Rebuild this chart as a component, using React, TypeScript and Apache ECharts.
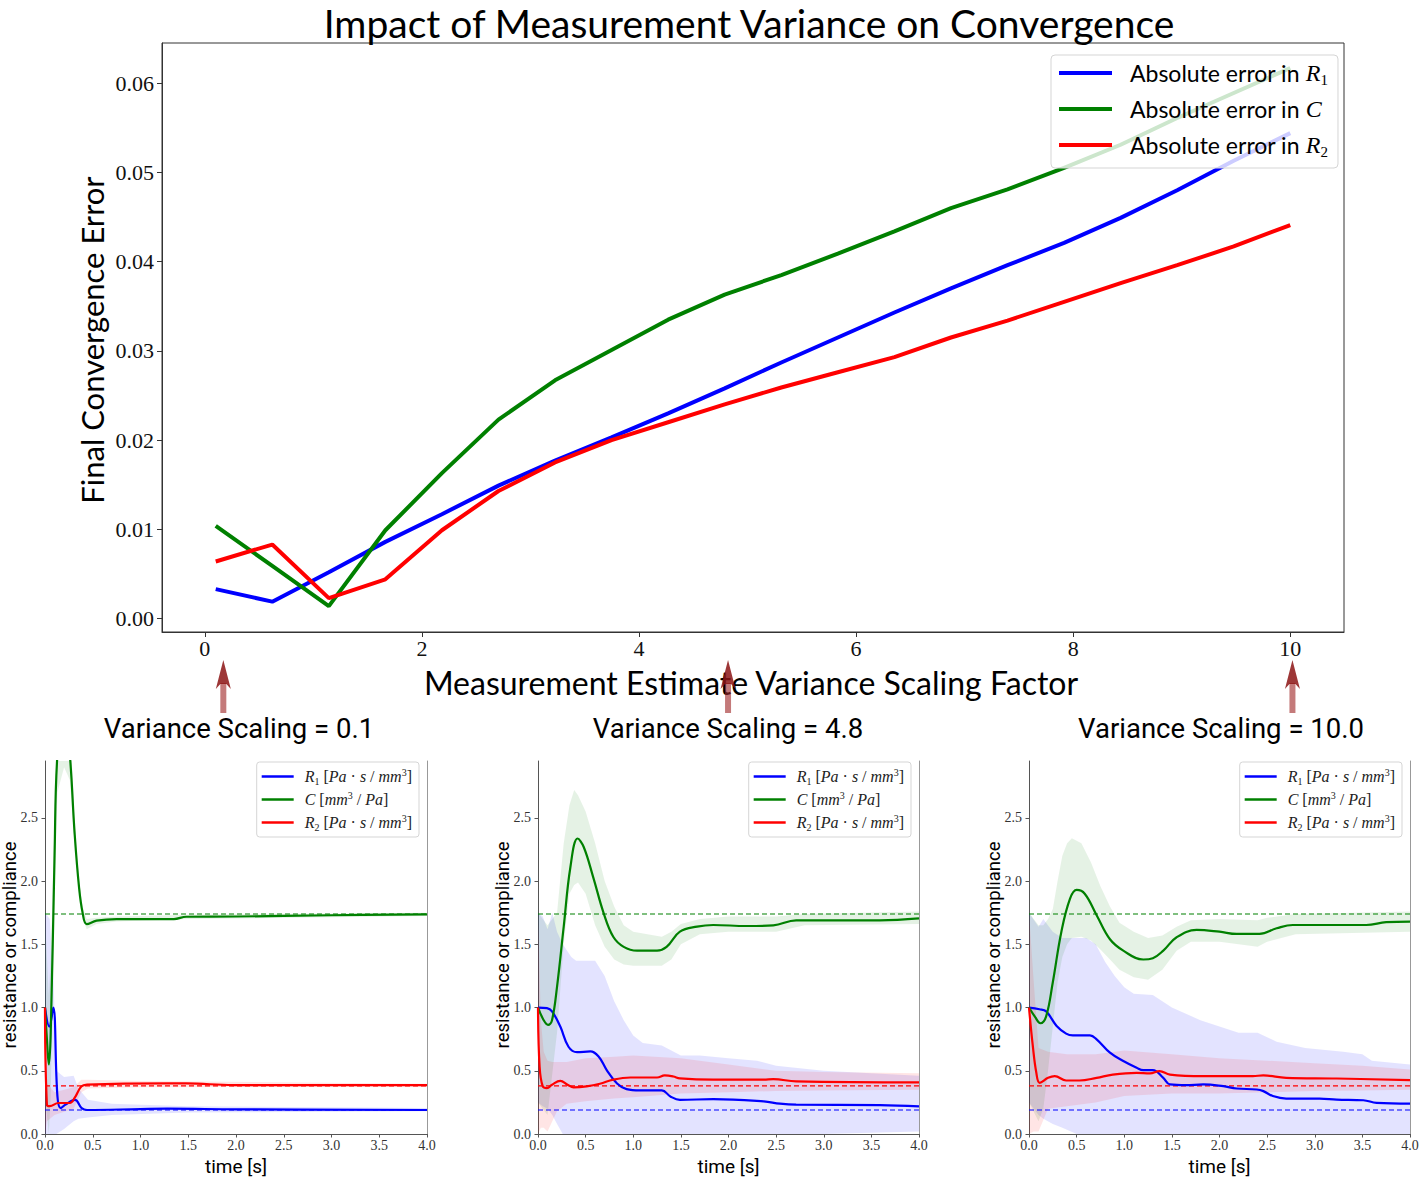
import React, { useEffect, useRef } from "react";
import * as echarts from "echarts";

// ---------------- main chart data ----------------
const scaleFactors = [0.1, 0.621, 1.142, 1.663, 2.184, 2.705, 3.226, 3.747, 4.268, 4.789, 5.311, 5.832, 6.353, 6.874, 7.395, 7.916, 8.437, 8.958, 9.479, 10.0];
const errR1 = [0.0033, 0.0019, 0.0052, 0.0086, 0.0117, 0.0149, 0.0177, 0.0203, 0.023, 0.0258, 0.0287, 0.0315, 0.0343, 0.037, 0.0396, 0.0421, 0.0449, 0.048, 0.0513, 0.0544];
const errC = [0.0104, 0.0059, 0.0014, 0.0099, 0.0163, 0.0223, 0.0267, 0.0301, 0.0335, 0.0363, 0.0385, 0.0409, 0.0434, 0.046, 0.0481, 0.0505, 0.0531, 0.0561, 0.0589, 0.0617];
const errR2 = [0.0064, 0.0083, 0.0023, 0.0044, 0.0099, 0.0143, 0.0175, 0.02, 0.022, 0.024, 0.0259, 0.0276, 0.0293, 0.0315, 0.0334, 0.0355, 0.0376, 0.0396, 0.0417, 0.0441];
const mainXTicks = [0, 2, 4, 6, 8, 10];
const mainYTicks = [0, 0.01, 0.02, 0.03, 0.04, 0.05, 0.06];
const arrowTargets = [0.17, 4.82, 10.02];

// ---------------- panel data ----------------
const panelTitles = ["Variance Scaling = 0.1", "Variance Scaling = 4.8", "Variance Scaling = 10.0"];
const refR1 = 0.19;
const refC = 1.74;
const refR2 = 0.38;

// panel 1 (variance 0.1): [t, value]
const p1R1 = [[0, 1.0], [0.045, 0.85], [0.087, 1.0], [0.13, 0.3], [0.164, 0.205], [0.21, 0.23], [0.314, 0.27], [0.384, 0.205], [0.44, 0.19], [1.0, 0.197], [1.28, 0.2], [2.0, 0.195], [4.0, 0.19]];
const p1C = [[0, 1.0], [0.02, 0.75], [0.04, 0.55], [0.06, 0.8], [0.1, 2.2], [0.13, 3.0], [0.2, 3.4], [0.26, 3.0], [0.31, 2.38], [0.356, 1.955], [0.395, 1.745], [0.437, 1.66], [0.54, 1.687], [0.75, 1.7], [1.35, 1.7], [1.48, 1.718], [2.0, 1.72], [3.0, 1.73], [4.0, 1.737]];
const p1R2 = [[0, 1.0], [0.02, 0.23], [0.05, 0.22], [0.14, 0.245], [0.26, 0.245], [0.31, 0.285], [0.38, 0.375], [0.44, 0.39], [1.28, 0.4], [1.48, 0.4], [1.97, 0.387], [4.0, 0.387]];
// bands: [t, lower, upper]
const p1R1Band = [[0, 0, 1.75], [0.05, 0, 1.7], [0.09, 0, 1.2], [0.12, 0, 0.5], [0.2, 0.04, 0.45], [0.3, 0.1, 0.46], [0.35, 0.12, 0.36], [0.45, 0.13, 0.27], [0.7, 0.15, 0.24], [1.5, 0.17, 0.22], [4.0, 0.18, 0.205]];
const p1CBand = [[0, 0.3, 1.7], [0.04, 0.0, 1.1], [0.06, 0.3, 1.4], [0.1, 1.9, 2.5], [0.13, 2.7, 3.2], [0.2, 2.9, 3.7], [0.26, 2.8, 3.3], [0.31, 2.3, 2.46], [0.356, 1.9, 2.01], [0.395, 1.7, 1.79], [0.437, 1.62, 1.7], [0.54, 1.66, 1.71], [0.75, 1.68, 1.72], [1.5, 1.7, 1.735], [4.0, 1.725, 1.75]];
const p1R2Band = [[0, 0.0, 1.0], [0.02, 0.1, 0.4], [0.1, 0.15, 0.33], [0.3, 0.2, 0.37], [0.38, 0.33, 0.43], [0.45, 0.36, 0.43], [1.0, 0.37, 0.42], [4.0, 0.375, 0.397]];

// panel 2 (variance 4.8)
const p2R1 = [[0, 1.0], [0.094, 0.995], [0.147, 0.97], [0.234, 0.85], [0.32, 0.69], [0.41, 0.647], [0.55, 0.653], [0.636, 0.613], [0.72, 0.508], [0.83, 0.4], [0.93, 0.355], [1.07, 0.345], [1.3, 0.345], [1.39, 0.297], [1.49, 0.27], [1.84, 0.276], [2.37, 0.258], [2.54, 0.24], [2.71, 0.232], [3.59, 0.229], [4.0, 0.218]];
const p2C = [[0, 1.0], [0.06, 0.9], [0.105, 0.863], [0.147, 0.9], [0.2, 1.166], [0.27, 1.64], [0.34, 2.11], [0.416, 2.337], [0.48, 2.27], [0.58, 2.03], [0.69, 1.745], [0.79, 1.56], [0.9, 1.48], [1.04, 1.45], [1.25, 1.45], [1.35, 1.48], [1.49, 1.6], [1.67, 1.64], [1.84, 1.653], [2.19, 1.645], [2.47, 1.65], [2.71, 1.69], [3.59, 1.69], [4.0, 1.705]];
const p2R2 = [[0, 1.0], [0.017, 0.53], [0.05, 0.376], [0.094, 0.363], [0.147, 0.39], [0.234, 0.42], [0.31, 0.39], [0.374, 0.368], [0.51, 0.376], [0.65, 0.397], [0.79, 0.43], [0.97, 0.447], [1.25, 0.447], [1.33, 0.463], [1.42, 0.455], [1.49, 0.44], [1.84, 0.43], [2.37, 0.43], [2.47, 0.434], [2.71, 0.416], [4.0, 0.408]];
const p2R1Band = [[0, 0.25, 1.75], [0.05, 0.22, 1.72], [0.1, 0.2, 1.62], [0.15, 0.15, 1.75], [0.2, 0.08, 1.6], [0.26, 0, 1.5], [0.35, 0, 1.4], [0.4, 0, 1.37], [0.6, 0, 1.37], [0.7, 0, 1.25], [0.8, 0, 1.05], [0.9, 0, 0.9], [1.0, 0, 0.78], [1.1, 0, 0.72], [1.3, 0, 0.7], [1.4, 0, 0.66], [1.5, 0, 0.62], [1.7, 0, 0.62], [2.0, 0, 0.6], [2.3, 0, 0.58], [2.5, 0, 0.54], [3.0, 0, 0.5], [4.0, 0.02, 0.46]];
const p2CBand = [[0, 0.25, 1.75], [0.1, 0.15, 1.65], [0.2, 0.8, 1.75], [0.27, 1.5, 2.3], [0.33, 1.9, 2.6], [0.38, 1.97, 2.72], [0.42, 1.99, 2.68], [0.5, 1.9, 2.55], [0.6, 1.65, 2.3], [0.7, 1.48, 2.0], [0.8, 1.38, 1.8], [0.9, 1.34, 1.65], [1.0, 1.33, 1.6], [1.3, 1.33, 1.56], [1.4, 1.38, 1.6], [1.5, 1.5, 1.66], [1.7, 1.58, 1.7], [2.0, 1.6, 1.72], [2.5, 1.6, 1.72], [2.8, 1.65, 1.74], [4.0, 1.66, 1.76]];
const p2R2Band = [[0, 0, 1.75], [0.03, 0.05, 0.9], [0.06, 0.05, 0.65], [0.1, 0.02, 0.58], [0.15, 0.1, 0.57], [0.2, 0.18, 0.57], [0.3, 0.24, 0.57], [0.5, 0.26, 0.6], [0.8, 0.28, 0.61], [1.0, 0.29, 0.62], [1.5, 0.32, 0.6], [2.0, 0.33, 0.55], [2.5, 0.34, 0.5], [3.0, 0.345, 0.49], [4.0, 0.35, 0.48]];

// panel 3 (variance 10.0)
const p3R1 = [[0, 1.0], [0.11, 0.987], [0.18, 0.97], [0.29, 0.855], [0.39, 0.794], [0.46, 0.78], [0.64, 0.78], [0.71, 0.749], [0.85, 0.643], [0.99, 0.577], [1.13, 0.524], [1.2, 0.505], [1.3, 0.505], [1.41, 0.444], [1.48, 0.392], [1.65, 0.386], [1.83, 0.392], [2.04, 0.378], [2.18, 0.36], [2.39, 0.352], [2.46, 0.339], [2.56, 0.3], [2.7, 0.28], [3.05, 0.28], [3.23, 0.272], [3.51, 0.267], [3.65, 0.246], [4.0, 0.24]];
const p3C = [[0, 1.0], [0.06, 0.93], [0.12, 0.876], [0.18, 0.93], [0.25, 1.2], [0.34, 1.6], [0.43, 1.86], [0.5, 1.93], [0.585, 1.9], [0.71, 1.73], [0.85, 1.54], [0.99, 1.45], [1.2, 1.38], [1.3, 1.39], [1.41, 1.45], [1.55, 1.556], [1.76, 1.614], [2.0, 1.6], [2.18, 1.582], [2.42, 1.582], [2.6, 1.627], [2.77, 1.653], [3.54, 1.653], [3.75, 1.675], [4.0, 1.68]];
const p3R2 = [[0, 1.0], [0.04, 0.696], [0.077, 0.484], [0.112, 0.405], [0.2, 0.444], [0.27, 0.458], [0.39, 0.423], [0.53, 0.423], [0.71, 0.444], [0.88, 0.47], [1.13, 0.484], [1.27, 0.479], [1.37, 0.497], [1.48, 0.47], [1.83, 0.458], [2.35, 0.458], [2.46, 0.463], [2.7, 0.444], [3.23, 0.439], [4.0, 0.426]];
const p3R1Band = [[0, 0.25, 1.75], [0.1, 0.15, 1.64], [0.15, 0.12, 1.7], [0.25, 0.08, 1.6], [0.35, 0.05, 1.55], [0.5, 0, 1.55], [0.6, 0, 1.55], [0.7, 0, 1.5], [0.8, 0, 1.36], [0.9, 0, 1.25], [1.0, 0, 1.16], [1.1, 0, 1.11], [1.3, 0, 1.1], [1.5, 0, 1.0], [1.8, 0, 0.9], [2.0, 0, 0.85], [2.2, 0, 0.8], [2.4, 0, 0.8], [2.6, 0, 0.73], [2.9, 0, 0.68], [3.3, 0, 0.65], [3.5, 0, 0.63], [3.6, 0, 0.58], [4.0, 0, 0.55]];
const p3CBand = [[0, 0.25, 1.75], [0.1, 0.1, 1.65], [0.15, 0.2, 1.65], [0.2, 0.5, 1.7], [0.25, 0.85, 1.78], [0.3, 1.2, 2.0], [0.35, 1.4, 2.2], [0.4, 1.5, 2.3], [0.45, 1.55, 2.34], [0.55, 1.56, 2.3], [0.65, 1.53, 2.15], [0.75, 1.46, 1.96], [0.85, 1.38, 1.8], [0.95, 1.3, 1.67], [1.1, 1.24, 1.6], [1.25, 1.22, 1.55], [1.4, 1.3, 1.57], [1.55, 1.45, 1.64], [1.7, 1.52, 1.69], [2.0, 1.52, 1.7], [2.4, 1.48, 1.69], [2.5, 1.52, 1.71], [2.8, 1.58, 1.74], [4.0, 1.6, 1.76]];
const p3R2Band = [[0, 0, 1.75], [0.05, 0.02, 1.2], [0.1, 0.02, 0.68], [0.2, 0.2, 0.65], [0.4, 0.22, 0.63], [0.7, 0.25, 0.63], [1.0, 0.3, 0.66], [1.5, 0.32, 0.63], [2.0, 0.32, 0.6], [2.5, 0.33, 0.58], [3.0, 0.34, 0.56], [3.5, 0.345, 0.54], [4.0, 0.35, 0.51]];

// ---------------- styling ----------------
const BLUE = "#0000ff";
const GREEN = "#008000";
const RED = "#ff0000";
const SANS = "Lato, 'Open Sans', sans-serif";
const SERIF = "'Liberation Serif', 'DejaVu Serif', serif";
const ROBOTO = "Roboto, 'Noto Sans', sans-serif";

const MAIN_NAMES = ["Absolute error in R1", "Absolute error in C", "Absolute error in R2"];
const PANEL_NAMES = ["R1 [Pa s / mm3]", "C [mm3 / Pa]", "R2 [Pa s / mm3]"];

const panels = [
  { r1: p1R1, c: p1C, r2: p1R2, r1Band: p1R1Band, cBand: p1CBand, r2Band: p1R2Band },
  { r1: p2R1, c: p2C, r2: p2R2, r1Band: p2R1Band, cBand: p2CBand, r2Band: p2R2Band },
  { r1: p3R1, c: p3C, r2: p3R2, r1Band: p3R1Band, cBand: p3CBand, r2Band: p3R2Band },
];
const panelGrids = [
  { left: 45, top: 761, width: 382, height: 373 },
  { left: 538, top: 761, width: 381, height: 373 },
  { left: 1029, top: 761, width: 381, height: 373 },
];
const panelTitleCenters = [239, 728, 1221];

const zip = (xs: number[], ys: number[]) => xs.map((x, i) => [x, ys[i]]);

function bandSeries(band: number[][], fill: string, idx: number) {
  return {
    type: "custom",
    xAxisIndex: idx,
    yAxisIndex: idx,
    clip: true,
    silent: true,
    z: 1,
    data: [[0, 0]],
    renderItem: (_p: any, api: any) => {
      const upper = band.map((b) => api.coord([b[0], b[2]]));
      const lower = band.slice().reverse().map((b) => api.coord([b[0], b[1]]));
      return {
        type: "polygon",
        shape: { points: upper.concat(lower) },
        style: { fill, stroke: null },
      };
    },
  };
}

function lineSeries(name: string, data: number[][], color: string, idx: number, width: number, smooth: number | false) {
  return {
    type: "line",
    name,
    data,
    xAxisIndex: idx,
    yAxisIndex: idx,
    color,
    showSymbol: false,
    symbol: "none",
    smooth,
    clip: true,
    z: 3,
    lineStyle: { color, width },
    itemStyle: { color },
  };
}

function refSeries(value: number, color: string, idx: number) {
  return {
    type: "line",
    data: [[0, value], [4, value]],
    xAxisIndex: idx,
    yAxisIndex: idx,
    showSymbol: false,
    symbol: "none",
    silent: true,
    z: 2,
    lineStyle: { color, width: 1.2, type: [5, 3] },
  };
}

function buildOption() {
  const grids: any[] = [
    { left: 162, top: 43, width: 1182, height: 589, show: true, borderColor: "#333", borderWidth: 1, backgroundColor: "transparent", outerBoundsMode: "none", containLabel: false },
    ...panelGrids.map((g) => ({ ...g, outerBoundsMode: "none", containLabel: false })),
  ];

  const xAxes: any[] = [
    {
      type: "value", gridIndex: 0, min: -0.395, max: 10.495,
      axisLine: { onZero: false, lineStyle: { color: "#333", width: 1 } },
      axisTick: { show: true, length: 5, customValues: mainXTicks, lineStyle: { color: "#333" } },
      axisLabel: { customValues: mainXTicks, fontFamily: SERIF, fontSize: 22, color: "#111", margin: 5, formatter: (v: number) => String(v) },
      splitLine: { show: false },
    },
    ...panelGrids.map((_, i) => ({
      type: "value", gridIndex: i + 1, min: 0, max: 4, interval: 0.5,
      axisLine: { onZero: false, lineStyle: { color: "#555", width: 1 } },
      axisTick: { show: true, length: 3.5, lineStyle: { color: "#555" } },
      axisLabel: { fontFamily: SERIF, fontSize: 14, color: "#333", margin: 4, formatter: (v: number) => v.toFixed(1) },
      splitLine: { show: false },
    })),
  ];

  const yAxes: any[] = [
    {
      type: "value", gridIndex: 0, min: -0.0015, max: 0.0645,
      axisLine: { onZero: false, lineStyle: { color: "#333", width: 1 } },
      axisTick: { show: true, length: 5, customValues: mainYTicks, lineStyle: { color: "#333" } },
      axisLabel: { customValues: mainYTicks, fontFamily: SERIF, fontSize: 22, color: "#111", margin: 8, formatter: (v: number) => v.toFixed(2) },
      splitLine: { show: false },
    },
    ...panelGrids.map((_, i) => ({
      type: "value", gridIndex: i + 1, min: 0, max: 2.95, interval: 0.5,
      axisLine: { onZero: false, lineStyle: { color: "#555", width: 1 } },
      axisTick: { show: true, length: 3.5, lineStyle: { color: "#555" } },
      axisLabel: { fontFamily: SERIF, fontSize: 14, color: "#333", margin: 7, showMaxLabel: false, formatter: (v: number) => v.toFixed(1) },
      splitLine: { show: false },
    })),
    ...panelGrids.map((_, i) => ({
      type: "value", gridIndex: i + 1, min: 0, max: 2.95, position: "right",
      axisLine: { show: true, onZero: false, lineStyle: { color: "#999", width: 1 } },
      axisTick: { show: false },
      axisLabel: { show: false },
      splitLine: { show: false },
    })),
  ];

  const series: any[] = [
    lineSeries(MAIN_NAMES[0], zip(scaleFactors, errR1), BLUE, 0, 4, false),
    lineSeries(MAIN_NAMES[1], zip(scaleFactors, errC), GREEN, 0, 4, false),
    lineSeries(MAIN_NAMES[2], zip(scaleFactors, errR2), RED, 0, 4, false),
  ];
  panels.forEach((p, i) => {
    const idx = i + 1;
    series.push(bandSeries(p.r1Band, "rgba(0,0,255,0.11)", idx));
    series.push(bandSeries(p.cBand, "rgba(0,128,0,0.1)", idx));
    series.push(bandSeries(p.r2Band, "rgba(255,0,0,0.1)", idx));
    series.push(refSeries(refC, GREEN, idx));
    series.push(refSeries(refR2, RED, idx));
    series.push(refSeries(refR1, BLUE, idx));
    series.push(lineSeries(PANEL_NAMES[0], p.r1, BLUE, idx, 2.2, 0.4));
    series.push(lineSeries(PANEL_NAMES[1], p.c, GREEN, idx, 2.2, 0.4));
    series.push(lineSeries(PANEL_NAMES[2], p.r2, RED, idx, 2.2, 0.4));
  });

  const mainLegend = {
    orient: "vertical", left: 1051, top: 55,
    data: MAIN_NAMES, icon: "rect", itemWidth: 53, itemHeight: 4, itemGap: 8,
    padding: [4, 10, 9, 8],
    backgroundColor: "rgba(255,255,255,0.8)", borderColor: "#d5d5d5", borderWidth: 1, borderRadius: 4,
    selectedMode: false,
    formatter: (name: string) => {
      if (name === MAIN_NAMES[0]) return "Absolute error in {i|R}{sb|1}";
      if (name === MAIN_NAMES[1]) return "Absolute error in {i|C}";
      return "Absolute error in {i|R}{sb|2}";
    },
    textStyle: {
      fontFamily: SANS, fontSize: 23, color: "#000", lineHeight: 28, padding: [0, 0, 0, 13],
      rich: {
        i: { fontFamily: SERIF, fontStyle: "italic", fontSize: 24, color: "#000", lineHeight: 28 },
        sb: { fontFamily: SERIF, fontSize: 15, color: "#000", verticalAlign: "bottom", lineHeight: 28 },
      },
    },
  };

  const panelLegends = panelGrids.map((g) => ({
    orient: "vertical", right: 1419 - (g.left + g.width) + 8, top: 762,
    data: PANEL_NAMES, icon: "rect", itemWidth: 32, itemHeight: 2.5, itemGap: 4,
    padding: [5, 7, 5, 5],
    backgroundColor: "rgba(255,255,255,0.8)", borderColor: "#d5d5d5", borderWidth: 1, borderRadius: 3,
    selectedMode: false,
    formatter: (name: string) => {
      if (name === PANEL_NAMES[0]) return "{i|R}{sb|1} [{i|Pa} · {i|s} / {i|mm}{sp|3}]";
      if (name === PANEL_NAMES[1]) return "{i|C} [{i|mm}{sp|3} / {i|Pa}]";
      return "{i|R}{sb|2} [{i|Pa} · {i|s} / {i|mm}{sp|3}]";
    },
    textStyle: {
      fontFamily: SERIF, fontSize: 16, color: "#222", lineHeight: 19, padding: [0, 0, 0, 6],
      rich: {
        i: { fontFamily: SERIF, fontStyle: "italic", fontSize: 16, color: "#222", lineHeight: 19 },
        sb: { fontFamily: SERIF, fontSize: 10, color: "#222", verticalAlign: "bottom", lineHeight: 19 },
        sp: { fontFamily: SERIF, fontSize: 10, color: "#222", verticalAlign: "top", lineHeight: 19 },
      },
    },
  }));

  return {
    animation: false,
    backgroundColor: "#ffffff",
    textStyle: { fontFamily: SANS },
    grid: grids,
    xAxis: xAxes,
    yAxis: yAxes,
    legend: [mainLegend, ...panelLegends],
    series,
  };
}

function txt(text: string, x: number, y: number, fontSize: number, fontFamily: string, rotation = 0) {
  return {
    type: "text", x, y, rotation, silent: true, z: 100,
    style: {
      text, fontSize, fontFamily, fill: "#000",
      align: "center", verticalAlign: "middle", textAlign: "center", textVerticalAlign: "middle",
    },
  };
}

export default function App() {
  const ref = useRef<HTMLDivElement>(null);
  useEffect(() => {
    const chart = echarts.init(ref.current!, null, { renderer: "svg", width: 1419, height: 1178 });
    chart.setOption(buildOption());

    const texts: any[] = [
      txt("Impact of Measurement Variance on Convergence", 749, 23, 39, SANS),
      txt("Final Convergence Error", 92, 340, 31, SANS, Math.PI / 2),
      txt("Measurement Estimate Variance Scaling Factor", 751, 682, 32, SANS),
    ];
    panelGrids.forEach((g, i) => {
      texts.push(txt(panelTitles[i], panelTitleCenters[i], 728, 27.5, ROBOTO));
      texts.push(txt("resistance or compliance", g.left - 35, 945, 18.5, ROBOTO, Math.PI / 2));
      texts.push(txt("time [s]", g.left + g.width / 2, 1166, 19, ROBOTO));
    });

    const arrows: any[] = [];
    arrowTargets.forEach((v) => {
      const cx = chart.convertToPixel({ xAxisIndex: 0 } as any, v) as unknown as number;
      arrows.push({
        type: "rect", silent: true, z: 110,
        shape: { x: cx - 3, y: 683, width: 6, height: 30 },
        style: { fill: "rgba(160,40,40,0.62)" },
      });
      arrows.push({
        type: "polygon", silent: true, z: 111,
        shape: { points: [[cx, 660], [cx + 7.5, 689], [cx + 3, 684], [cx - 3, 684], [cx - 7.5, 689]] },
        style: { fill: "rgba(140,20,20,0.85)" },
      });
    });

    chart.setOption({ graphic: [...texts, ...arrows] });
    return () => chart.dispose();
  }, []);
  return <div ref={ref} style={{ position: "absolute", left: 0, top: 0, width: 1419, height: 1178 }} />;
}
